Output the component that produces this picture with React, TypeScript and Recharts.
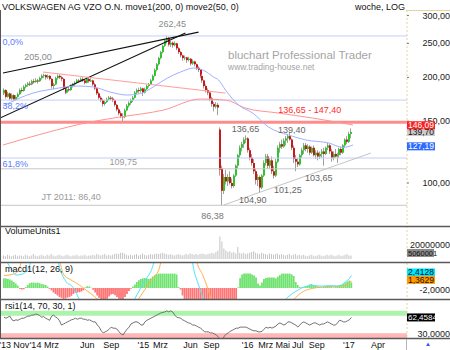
import React from 'react';
import {
  ComposedChart,
  Bar,
  Line,
  XAxis,
  YAxis,
  ReferenceLine,
  ReferenceDot,
  ReferenceArea,
  Cell,
} from 'recharts';

const FONT = '"Liberation Sans", Arial, Helvetica, sans-serif';

// week index 0 = mid Aug 2013, one entry per week
const X_DOMAIN = [-2, 203];

// [open, high, low, close]
const ohlc: number[][] = [
  [180, 186, 178, 184], [184, 185, 174, 176], [176, 182, 175, 180], [180, 181, 172, 174], [174, 180, 172, 178],
  [178, 179, 171, 173], [173, 178, 172, 176], [176, 181, 175, 179], [179, 186, 178, 184], [184, 187, 181, 183],
  [183, 190, 182, 188], [188, 192, 186, 190], [190, 194, 188, 192], [192, 195, 189, 191], [191, 197, 190, 195],
  [195, 198, 192, 194], [194, 199, 193, 196], [196, 198, 192, 195], [195, 201, 194, 199], [199, 204, 197, 202],
  [202, 205, 199, 203], [203, 204, 197, 200], [200, 204, 198, 202], [202, 203, 196, 198], [198, 199, 186, 189],
  [189, 193, 185, 191], [191, 201, 190, 199], [199, 204, 197, 202], [202, 204, 198, 200], [200, 202, 195, 198],
  [198, 199, 184, 186], [186, 188, 179, 181], [181, 187, 180, 185], [185, 188, 182, 184], [184, 191, 183, 189],
  [189, 193, 187, 191], [191, 195, 189, 193], [193, 198, 192, 196], [196, 198, 193, 195], [195, 200, 194, 198],
  [198, 200, 194, 196], [196, 198, 191, 193], [193, 200, 192, 198], [198, 199, 193, 195], [195, 199, 194, 196],
  [196, 197, 189, 191], [191, 193, 184, 186], [186, 187, 178, 180], [180, 182, 173, 175], [175, 177, 170, 172],
  [172, 174, 165, 168], [168, 172, 166, 170], [170, 175, 169, 173], [173, 177, 172, 175], [175, 177, 172, 174],
  [174, 176, 170, 172], [172, 173, 165, 167], [167, 168, 160, 162], [162, 164, 156, 158], [158, 160, 153, 155],
  [155, 158, 150, 154], [154, 163, 153, 161], [161, 168, 160, 166], [166, 171, 164, 169], [169, 174, 167, 172],
  [172, 177, 170, 175], [175, 183, 174, 181], [181, 186, 179, 184], [184, 187, 180, 183], [183, 188, 181, 186],
  [186, 187, 177, 181], [181, 187, 180, 185], [185, 191, 184, 189], [189, 193, 187, 191], [191, 198, 190, 196],
  [196, 204, 195, 202], [202, 212, 201, 210], [210, 220, 208, 218], [218, 229, 216, 227], [227, 238, 225, 236],
  [236, 248, 234, 246], [246, 257, 244, 255], [255, 262.45, 250, 259], [259, 261, 245, 248], [248, 254, 244, 251],
  [251, 253, 243, 247], [247, 253, 245, 250], [250, 251, 239, 242], [242, 244, 233, 236], [236, 238, 228, 231],
  [231, 232, 223, 227], [227, 231, 224, 228], [228, 229, 220, 224], [224, 229, 222, 226], [226, 227, 216, 219],
  [219, 225, 217, 222], [222, 223, 215, 218], [218, 219, 210, 213], [213, 215, 207, 210], [210, 211, 199, 202],
  [202, 204, 193, 196], [196, 197, 186, 189], [189, 191, 181, 184], [184, 186, 178, 181], [181, 182, 171, 174],
  [174, 176, 165, 168], [168, 170, 160, 165], [165, 170, 163, 167], [167, 169, 156, 164], [142, 144, 105, 109],
  [110, 112, 86.38, 95], [95, 106, 93, 104], [104, 109, 99, 101], [101, 106, 98, 104], [104, 108, 99, 100],
  [100, 103, 96.5, 98], [98, 106, 97, 105], [105, 113, 104, 112], [112, 121, 110, 120], [120, 128, 118, 126],
  [126, 131, 123, 129], [129, 135, 126, 133], [133, 136.65, 130, 134], [134, 135, 122, 124], [124, 126, 116, 118],
  [118, 121, 112, 114], [114, 117, 106, 108], [108, 110, 99, 102], [102, 106, 98, 104], [104, 105, 94, 97],
  [97, 106, 96, 105], [105, 116, 104, 114], [114, 121, 112, 119], [119, 121, 110, 112], [112, 118, 110, 116],
  [116, 119, 106, 108], [108, 112, 103, 105], [105, 117, 104, 115], [115, 128, 114, 126], [126, 131, 122, 129],
  [129, 133, 125, 127], [127, 134, 126, 132], [132, 136, 128, 134], [134, 138, 130, 136], [136, 139.4, 132, 133],
  [133, 134, 124, 126], [126, 128, 114, 117], [117, 120, 108, 115], [115, 118, 111, 113], [113, 121, 112, 120],
  [120, 126, 118, 124], [124, 130, 121, 128], [128, 130, 123, 125], [125, 129, 122, 127], [127, 128, 120, 122],
  [122, 127, 121, 126], [126, 128, 119, 120], [120, 124, 117, 122], [122, 124, 116, 119], [119, 123, 117, 121],
  [121, 125, 118, 123], [123, 126, 112, 121], [121, 127, 120, 126], [126, 130, 124, 128], [128, 129, 121, 123],
  [123, 125, 115, 118], [118, 123, 116, 121], [121, 125, 118, 119], [119, 122, 114, 120], [120, 126, 118, 125],
  [125, 127, 120, 122], [122, 129, 121, 128], [128, 134, 126, 133], [133, 136, 129, 131], [131, 140, 130, 138],
  [138, 143, 134, 139.7],
];

// weekly volume, millions
const volume = [
  5, 4, 6, 5, 4, 5, 6, 4, 5, 5, 4, 6, 5, 4, 5, 7, 5, 4, 5, 6,
  5, 4, 6, 5, 7, 5, 4, 5, 6, 5, 4, 5, 6, 5, 4, 5, 5, 6, 4, 5,
  5, 6, 4, 5, 5, 6, 5, 7, 6, 5, 6, 7, 5, 6, 5, 6, 7, 8, 7, 9,
  9, 8, 6, 5, 6, 5, 6, 7, 5, 6, 8, 6, 5, 6, 7, 6, 7, 8, 7, 8,
  9, 8, 7, 6, 7, 6, 5, 6, 7, 6, 5, 6, 7, 6, 8, 7, 6, 7, 6, 7,
  8, 7, 6, 7, 8, 9, 8, 10, 12, 32, 25, 15, 12, 10, 11, 9, 10, 8, 17, 9,
  8, 9, 7, 8, 9, 10, 11, 9, 8, 7, 9, 8, 7, 6, 8, 7, 6, 7, 8, 6,
  7, 6, 5, 6, 7, 5, 6, 7, 5, 6, 5, 6, 5, 4, 5, 6, 5, 4, 5, 6,
  5, 4, 5, 6, 5, 6, 5, 4, 5, 6, 4, 5, 6, 7, 5, 5.06,
];

const macdHist = [
  1.85, 1.85, 1.73, 1.62, 1.44, 1.15, 0.87, 0.46, -0.17, -0.29,
  -0.23, 0.17, 0.58, 0.92, 1.04, 1.04, 0.98, 1.04, 0.92, 0.75,
  0.69, 0.58, 0.29, -0.17, -0.46, -0.87, -1.15, -1.44, -1.73, -1.9,
  -2.08, -2.02, -1.85, -1.73, -1.5, -1.15, -0.92, -0.87, -0.81, -0.69,
  -0.46, 0.12, 0.35, 0.29, 0.06, -0.35, -0.87, -1.44, -1.9, -2.2,
  -2.4, -2.3, -2.08, -1.62, -1.27, -1.15, -1.38, -1.73, -2.08, -2.3,
  -2.2, -1.73, -1.15, -0.58, -0.17, 0.29, 0.69, 1.15, 1.5, 1.73,
  1.85, 1.9, 1.85, 1.73, 1.85, 2.2, 2.48, 2.65, 2.77, 2.77,
  2.77, 2.77, 2.77, 2.77, 2.77, 2.77, 2.77, 2.6, 0.17, -0.29,
  -1.44, -4, -4, -4, -4, -4, -4, -4, -4, -4,
  -4, -4, -4, -4, -4, -4, -4, -4, -4, -4,
  -4, -4, -4, -4, -4, -4, -4, -4, 0.12, 1.9,
  2.6, 2.77, 2.77, 2.77, 2.77, 2.6, 2.42, 2.02, 0.87, 0.46,
  1.04, 1.73, 1.9, 2.02, 2.02, 2.02, 2.02, 1.85, 2.2, 2.48,
  2.77, 2.77, 2.77, 2.77, 2.77, 2.6, 2.3, 1.15, 0.58, 0.17,
  0.12, 0.17, 0.29, 0.46, 0.69, 0.75, 0.58, 0.46, 0.29, 0.17,
  0.12, 0.17, 0.35, 0.46, 0.35, 0.17, 0.12, 0.17, 0.35, 0.52,
  0.58, 0.75, 1.04, 1.27, 1.44, 1.05,
];

const rsi = [
  63, 61, 63, 65, 58, 56, 58, 57, 59, 61,
  61, 63, 65, 65, 67, 67, 69, 68, 66, 63,
  64, 61, 59, 57, 65, 67, 63, 61, 56, 48,
  50, 52, 54, 56, 58, 59, 61, 59, 61, 61,
  59, 59, 57, 58, 56, 54, 54, 48, 44, 37,
  33, 35, 37, 40, 44, 42, 42, 40, 35, 31,
  29, 35, 40, 44, 50, 52, 54, 54, 52, 48,
  48, 54, 57, 59, 61, 63, 65, 67, 69, 71,
  72, 73, 75, 73, 75, 73, 67, 63, 62, 61,
  58, 56, 54, 52, 51, 48, 48, 46, 44, 42,
  39, 35, 35, 35, 33, 33, 31, 29, 25, 21,
  19, 27, 31, 33, 36, 38, 40, 42, 42, 44,
  44, 44, 44, 42, 40, 38, 37, 37, 35, 35,
  36, 40, 44, 42, 44, 42, 44, 46, 50, 52,
  50, 48, 50, 54, 54, 52, 50, 48, 44, 48,
  52, 54, 52, 50, 48, 50, 52, 52, 50, 48,
  50, 50, 52, 54, 52, 50, 48, 48, 52, 57,
  56, 54, 54, 56, 58, 62.46,
];

// moving averages: [week, price]
const ma200Pts = [
  [-0.5, 128.3], [20.7, 138.8], [43.4, 149.2], [58.6, 154.2], [80.3, 161.4], [99, 173.5],
  [111.6, 172.3], [121.7, 163.5], [138.4, 158.2], [155.6, 153.1], [175.8, 146.3],
];
const ma50Pts = [
  [-0.5, 165.7], [14.6, 180.4], [24.7, 185.3], [36.9, 188.9], [45, 187.8], [53.5, 181.6],
  [62.1, 178.1], [68.7, 179.8], [75.3, 188], [82.3, 199.1], [88.9, 207.1], [95.5, 212.6],
  [100.5, 209.5], [105.6, 200.4], [108.1, 196.5], [111.6, 184], [118.2, 166.8], [125.3, 158.2],
  [133.3, 144.3], [143.4, 137], [152, 132.6], [163.6, 130], [170.7, 126.3], [175.8, 128.3],
];

// macd / signal, only parts inside the panel are visible
const macdPts = [
  [0, 6], [4, 3.5], [6, 2.5], [9, 2.65], [12, 3.5], [15, 6], [26, 6], [29, 2.8], [32, 0.9],
  [34, 0.45], [36, -0.6], [38, -2.3], [40, -4], [63, -4], [66, -2], [68, -0.6], [70, 0.9],
  [72, 2], [74, 3.2], [77, 6], [94, 6], [96, 2.9], [98, 0.6], [100, -1.7], [102, -4],
  [140, -4], [142, -2.2], [144, -1.45], [146, -0.85], [148, -0.45], [150, 0], [152, 0.3],
  [156, 0.45], [160, 0.35], [164, 0.45], [168, 0.4], [170, 0.6], [172, 1.15], [174, 1.85], [175, 2.41],
];
const signalPts = [
  [0, 2.4], [4, 2.6], [7, 3.2], [10, 6], [27, 6], [30, 2.6], [33, 1.7], [36, 1.05], [39, 0.3],
  [42, -0.6], [45, -1.45], [48, -2.6], [50, -4], [64, -4], [66, -3.2], [68, -2], [70, -0.85],
  [72, 0.3], [74, 1.45], [76, 2.3], [78, 3.5], [80, 6], [96, 6], [98, 4], [100, 2.6], [102, 0.6],
  [104, -1.7], [106, -4], [142, -4], [144, -3.2], [146, -2.2], [148, -1.45], [150, -0.85],
  [152, -0.45], [154, -0.2], [158, 0.1], [162, 0.25], [166, 0.3], [170, 0.35], [173, 0.6], [175, 1.36],
];

const priceTicks = [100, 150, 200, 250, 300];
const fibLevels = [262.45, 172.3, 117.8];
const fibNames = ['0,0%', '38,2%', '61,8%'];

const xTicks = [0.6, 8.7, 15.9, 23.9, 41.9, 54, 70.2, 78.8, 93.9, 104.5, 122.7, 131.8, 140.4, 148, 157.6, 173.7, 188.4];
const xTickLabels = ["'13", 'Nov', "'14", 'Mrz', 'Jun', 'Sep', "'15", 'Mrz', 'Jun', 'Sep', "'16", 'Mrz', 'Mai', 'Jul', 'Sep', "'17", 'Apr'];

// last values shown on the right axis
const priceBoxes = [
  { v: 127.19, text: '127,19', bg: '#2d6cff', color: '#fff' },
  { v: 139.7, text: '139,70', bg: '#cccccc', color: '#111' },
  { v: 146.09, text: '146,09', bg: '#ff1f1f', color: '#fff' },
];
const volumeBoxes = [{ v: 5.06, text: '5060001', bg: '#8a8a8a', color: '#111', fs: 7.5, w: 27, dy: -2.5 }];
const macdBoxes = [
  { v: 2.4128, text: '2,4128', bg: '#00e6ff', color: '#111', dy: -3 },
  { v: 1.3629, text: '1,3629', bg: '#ff9a00', color: '#111', dy: -1 },
];
const rsiBoxes = [{ v: 62.4584, text: '62,4584', bg: '#000', color: '#fff', fs: 8 }];

// text notes on the price panel: [week, price, text, colour]
const notes: [number, number, string, string][] = [
  [84.8, 283.7, '262,45', '#8a8a8a'],
  [17.2, 228.5, '205,00', '#8a8a8a'],
  [60.1, 114.8, '109,75', '#9a9a9a'],
  [33.8, 91.2, 'JT 2011: 86,40', '#9a9a9a'],
  [105, 80.5, '86,38', '#777'],
  [154, 161.4, '136,65 - 147,40', '#ff2b2b'],
  [121.7, 142.5, '136,65', '#666'],
  [145, 141.6, '139,40', '#666'],
  [125.3, 89.4, '104,90', '#666'],
  [143, 95.5, '101,25', '#666'],
  [158.6, 103.3, '103,65', '#666'],
];

const candles = ohlc.map((r, i) => ({ i, o: r[0], h: r[1], l: r[2], c: r[3] }));
const volRows = volume.map((v, i) => ({ i, v }));
const macdRows = macdHist.map((m, i) => ({ i, m }));
const rsiRows = rsi.map((r, i) => ({ i, r }));
const toPts = (pts: number[][]) => pts.map(([i, v]) => ({ i, v }));

const fmt = (v: number, d: number) => v.toFixed(d).replace('.', ',');

const Candle = (props: any) => {
  const { x, y, width, height, payload } = props;
  if (!payload || height == null || isNaN(y)) return null;
  const { o, h, l, c } = payload;
  const cx = Math.round(x + width / 2);
  const lh = Math.log(h);
  const ll = Math.log(l);
  const py = (v: number) => y + ((lh - Math.log(v)) / (lh - ll)) * height;
  const yo = py(o);
  const yc = py(c);
  const up = c >= o;
  return (
    <g>
      <line x1={cx - 0.5} x2={cx - 0.5} y1={y} y2={y + height} stroke="#a0a0a0" strokeWidth={1} />
      <rect x={cx - 1} y={Math.min(yo, yc)} width={2} height={Math.max(1, Math.abs(yo - yc))} fill={up ? '#2ec42e' : '#c81818'} />
    </g>
  );
};

const makeTick = (digits: number, label?: (v: number) => string, maxY = 999) => (p: any) => (
  <text x={450} y={Math.min(p.y, maxY)} dy={3} textAnchor="end" fontSize={9} fill="#222" fontFamily={FONT}>
    {label ? label(p.payload.value) : fmt(p.payload.value, digits)}
  </text>
);

// value boxes are ticks of a second, 1px wide axis declared after the main one, so they cover its labels
const makeBoxTick = (boxes: any[]) => (p: any) => {
  const b = boxes.find((q) => Math.abs(q.v - p.payload.value) < 1e-6);
  if (!b) return <g />;
  const y = p.y + (b.dy || 0);
  return (
    <g>
      <rect x={407} y={y - 4} width={b.w || 28} height={8} fill={b.bg} />
      <text x={408} y={y + 3} fontSize={b.fs || 8.5} fill={b.color} fontFamily={FONT}>{b.text}</text>
    </g>
  );
};

const XTick = (p: any) => (
  <text x={p.x} y={48.5} textAnchor="middle" fontSize={9} fill="#111" fontFamily={FONT}>
    {xTickLabels[xTicks.indexOf(p.payload.value)]}
  </text>
);

const axisLine = { stroke: '#e3d49c', strokeDasharray: '2 2' };

const boxAxis = (boxes: any[], domain: number[], log = false) => (
  <YAxis
    yAxisId="box"
    orientation="right"
    width={1}
    scale={log ? 'log' : 'auto'}
    domain={domain}
    allowDataOverflow
    ticks={boxes.map((b) => b.v)}
    interval={0}
    tick={makeBoxTick(boxes)}
    tickLine={false}
    axisLine={false}
  />
);

const PRICE_DOMAIN = [75.9, 311.2];
const VOL_DOMAIN = [0, 47];
const MACD_DOMAIN = [-2.12, 4.81];
const RSI_DOMAIN = [23.3, 97.6];

const PricePanel = () => (
  <ComposedChart width={450} height={226} data={candles} margin={{ top: 10, right: 0, bottom: 1, left: 0 }}>
    <XAxis type="number" dataKey="i" domain={X_DOMAIN} allowDataOverflow hide />
    <YAxis
      orientation="right"
      width={42}
      scale="log"
      domain={PRICE_DOMAIN}
      allowDataOverflow
      ticks={priceTicks}
      tick={makeTick(2)}
      tickLine={{ stroke: '#777' }}
      tickSize={2}
      axisLine={axisLine}
    />
    {boxAxis(priceBoxes, PRICE_DOMAIN, true)}
    {fibLevels.map((v, k) => (
      <ReferenceLine
        key={'f' + k}
        y={v}
        stroke="#c3cdf7"
        label={{ value: fibNames[k], position: 'insideTopLeft', offset: 2.5, fill: '#5a7cff', fontSize: 9, fontFamily: FONT }}
      />
    ))}
    <ReferenceLine y={109.75} stroke="#c6c6c6" />
    <ReferenceLine y={86.38} stroke="#c6c6c6" />
    <ReferenceLine y={149} stroke="#ff8c8c" strokeWidth={3} />
    <ReferenceLine segment={[{ x: -0.5, y: 205.8 }, { x: 98, y: 269.2 }]} stroke="#111" strokeWidth={1.1} ifOverflow="visible" />
    <ReferenceLine segment={[{ x: -2, y: 153.1 }, { x: 91.4, y: 267.4 }]} stroke="#111" strokeWidth={1.1} ifOverflow="visible" />
    <ReferenceLine segment={[{ x: 19.7, y: 207.1 }, { x: 111.6, y: 180.4 }]} stroke="#ff9d9d" ifOverflow="visible" />
    <ReferenceLine segment={[{ x: 110.6, y: 86.5 }, { x: 184.8, y: 121.7 }]} stroke="#c4c4c4" ifOverflow="visible" />
    <Line data={toPts(ma200Pts)} dataKey="v" type="monotone" stroke="#ff9494" strokeWidth={1} dot={false} isAnimationActive={false} />
    <Line data={toPts(ma50Pts)} dataKey="v" type="monotone" stroke="#9fb0ff" strokeWidth={1} dot={false} isAnimationActive={false} />
    <Bar dataKey={(d: any) => [d.l, d.h]} barSize={2} shape={<Candle />} isAnimationActive={false} />
    {notes.map(([i, p, text, color], k) => (
      <ReferenceDot
        key={'n' + k}
        x={i}
        y={p}
        r={0}
        fill="none"
        stroke="none"
        label={{ value: text, position: 'center', fill: color, fontSize: 9, fontFamily: FONT }}
      />
    ))}
  </ComposedChart>
);

const VolumePanel = () => (
  <ComposedChart width={450} height={37} data={volRows} margin={{ top: 0, right: 0, bottom: 4, left: 0 }}>
    <XAxis type="number" dataKey="i" domain={X_DOMAIN} allowDataOverflow hide />
    <YAxis
      orientation="right"
      width={42}
      domain={VOL_DOMAIN}
      allowDataOverflow
      ticks={[0, 20]}
      tick={makeTick(0, (v) => (v === 0 ? '0' : '20000000'))}
      tickLine={false}
      axisLine={axisLine}
    />
    {boxAxis(volumeBoxes, VOL_DOMAIN)}
    <Bar dataKey="v" barSize={1} fill="#c4c4c4" isAnimationActive={false} />
  </ComposedChart>
);

const MacdPanel = () => (
  <ComposedChart width={450} height={36} data={macdRows} margin={{ top: 0, right: 0, bottom: 0, left: 0 }}>
    <XAxis type="number" dataKey="i" domain={X_DOMAIN} allowDataOverflow hide />
    <YAxis
      orientation="right"
      width={42}
      domain={MACD_DOMAIN}
      allowDataOverflow
      ticks={[2, -2]}
      tick={makeTick(4, undefined, 32)}
      tickLine={false}
      axisLine={axisLine}
    />
    {boxAxis(macdBoxes, MACD_DOMAIN)}
    <Bar dataKey="m" barSize={2} isAnimationActive={false}>
      {macdRows.map((d) => (
        <Cell key={d.i} fill={d.m >= 0 ? '#6fe26f' : '#ff7575'} />
      ))}
    </Bar>
    <Line data={toPts(signalPts)} dataKey="v" type="monotone" stroke="#ffb04a" strokeWidth={1} dot={false} isAnimationActive={false} />
    <Line data={toPts(macdPts)} dataKey="v" type="monotone" stroke="#4fe3ff" strokeWidth={1} dot={false} isAnimationActive={false} />
  </ComposedChart>
);

const RsiPanel = () => (
  <ComposedChart width={450} height={51} data={rsiRows} margin={{ top: 0, right: 0, bottom: 0, left: 0 }}>
    <XAxis
      type="number"
      dataKey="i"
      domain={X_DOMAIN}
      allowDataOverflow
      ticks={xTicks}
      interval={0}
      tick={XTick}
      tickLine={false}
      axisLine={false}
      height={12}
    />
    <YAxis
      orientation="right"
      width={42}
      domain={RSI_DOMAIN}
      allowDataOverflow
      ticks={[70, 30]}
      tick={makeTick(4)}
      tickLine={false}
      axisLine={axisLine}
    />
    {boxAxis(rsiBoxes, RSI_DOMAIN)}
    <ReferenceArea y1={65.5} y2={75} fill="#adf3ad" fillOpacity={1} stroke="none" />
    <ReferenceArea y1={23.3} y2={32.5} fill="#ffb6b6" fillOpacity={1} stroke="none" />
    <Line dataKey="r" type="linear" stroke="#707070" strokeWidth={1} dot={false} isAnimationActive={false} />
  </ComposedChart>
);

const Overlay = () => (
  <svg width={450} height={350} style={{ position: 'absolute', left: 0, top: 0, pointerEvents: 'none' }} fontFamily={FONT}>
    <text x={2} y={9.5} fontSize={9} fill="#111">VOLKSWAGEN AG VZO O.N. move1(200, 0) move2(50, 0)</text>
    <text x={405} y={9.5} fontSize={9} fill="#111" textAnchor="end">woche, LOG</text>
    <text x={228} y={59} fontSize={11.5} fill="#a5a5a5">bluchart Professional Trader</text>
    <text x={228} y={70} fontSize={8.5} fill="#a5a5a5">www.trading-house.net</text>
    <text x={5} y={234} fontSize={9} fill="#111">VolumeUnits1</text>
    <text x={5} y={271.5} fontSize={9} fill="#111">macd1(12, 26, 9)</text>
    <text x={5} y={309} fontSize={9} fill="#111">rsi1(14, 70, 30, 1)</text>
    <line x1={406} x2={450} y1={10.5} y2={10.5} stroke="#e3d49c" />
    <line x1={0.5} x2={0.5} y1={10} y2={338} stroke="#555" />
    {[226.5, 262.5, 299.5, 338.5].map((y) => (
      <line key={y} x1={0} x2={450} y1={y} y2={y} stroke="#5a5a5a" strokeWidth={1.3} />
    ))}
    <line x1={406.5} x2={406.5} y1={339} y2={350} stroke="#b5b5b5" />
    <text x={428} y={346} fontSize={6} fill="#2a4cff" textAnchor="middle">▲</text>
  </svg>
);

export default function App() {
  return (
    <div style={{ position: 'absolute', left: 0, top: 0, width: 450, height: 350, background: '#fff', overflow: 'hidden' }}>
      <div style={{ position: 'absolute', left: 0, top: 0 }}><PricePanel /></div>
      <div style={{ position: 'absolute', left: 0, top: 226 }}><VolumePanel /></div>
      <div style={{ position: 'absolute', left: 0, top: 263 }}><MacdPanel /></div>
      <div style={{ position: 'absolute', left: 0, top: 299 }}><RsiPanel /></div>
      <Overlay />
    </div>
  );
}
